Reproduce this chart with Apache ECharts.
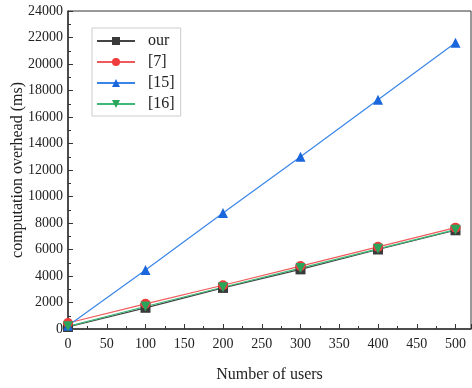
<!DOCTYPE html>
<html>
<head>
<meta charset="utf-8">
<script src="https://cdn.jsdelivr.net/npm/echarts@6/dist/echarts.min.js"></script>
<style>
html,body{margin:0;padding:0;background:#fff;}
#chart{width:472px;height:388px;}
</style>
</head>
<body>
<div id="chart"></div>
<script>
// values
var users = [0, 100, 200, 300, 400, 500];
var ourVals = [150, 1600, 3100, 4500, 6000, 7450];
var ref7Vals = [450, 1900, 3300, 4750, 6200, 7650];
var ref15Vals = [250, 4450, 8750, 13000, 17300, 21600];
var ref16Vals = [200, 1700, 3150, 4600, 6050, 7500];

function pairs(vals) {
    var out = [];
    for (var i = 0; i < users.length; i++) {
        out.push([users[i], vals[i]]);
    }
    return out;
}

var chart = echarts.init(document.getElementById('chart'));
var serif = 'Liberation Serif';

function makeSeries(name, vals, lineColor, markColor, symbol, rotate) {
    return {
        name: name,
        type: 'line',
        data: pairs(vals),
        symbol: symbol,
        symbolSize: 10,
        symbolRotate: rotate || 0,
        lineStyle: {color: lineColor, width: 1.2},
        itemStyle: {color: markColor},
        emphasis: {disabled: true}
    };
}

var option = {
    animation: false,
    textStyle: {fontFamily: serif},
    grid: {
        left: 68, right: 1, top: 11, bottom: 59,
        outerBoundsMode: 'none',
        containLabel: false,
        show: true, borderColor: '#333', borderWidth: 1
    },
    legend: {
        orient: 'vertical',
        left: 92, top: 28,
        itemWidth: 38, itemHeight: 10,
        itemGap: 5,
        padding: [5, 6, 4, 4],
        borderColor: '#ccc', borderWidth: 1,
        textStyle: {fontFamily: serif, fontSize: 16, color: '#222', padding: [0, 0, 0, 8]},
        data: ['our', '[7]', '[15]', '[16]']
    },
    xAxis: {
        type: 'value',
        min: 0, max: 520, interval: 50,
        name: 'Number of users',
        nameLocation: 'middle',
        nameGap: 38,
        nameMoveOverlap: false,
        nameTextStyle: {fontFamily: serif, fontSize: 16, color: '#222'},
        axisLine: {lineStyle: {color: '#333', width: 1.5}},
        axisTick: {inside: true, length: 5, lineStyle: {color: '#333'}},
        minorTick: {show: true, splitNumber: 2, length: 3, lineStyle: {color: '#333'}},
        axisLabel: {fontFamily: serif, fontSize: 14, color: '#222', margin: 8, showMaxLabel: false},
        splitLine: {show: false}
    },
    yAxis: {
        type: 'value',
        min: 0, max: 24000, interval: 2000,
        name: 'computation overhead (ms)',
        nameLocation: 'middle',
        nameGap: 42,
        nameMoveOverlap: false,
        nameTextStyle: {fontFamily: serif, fontSize: 16, color: '#222'},
        axisLine: {show: true, lineStyle: {color: '#333', width: 1.5}},
        axisTick: {show: true, inside: true, length: 5, lineStyle: {color: '#333'}},
        minorTick: {show: true, splitNumber: 2, length: 3, lineStyle: {color: '#333'}},
        axisLabel: {
            fontFamily: serif, fontSize: 14, color: '#222', margin: 5,
            formatter: function (v) { return String(v); }
        },
        splitLine: {show: false}
    },
    series: [
        makeSeries('our', ourVals, '#444444', '#3a3a3a', 'rect'),
        makeSeries('[7]', ref7Vals, '#f05a5a', '#f03c3c', 'circle'),
        makeSeries('[15]', ref15Vals, '#3a86e8', '#1a66dd', 'triangle'),
        makeSeries('[16]', ref16Vals, '#3cb878', '#2aa55a', 'triangle', 180)
    ]
};
chart.setOption(option);
</script>
</body>
</html>
